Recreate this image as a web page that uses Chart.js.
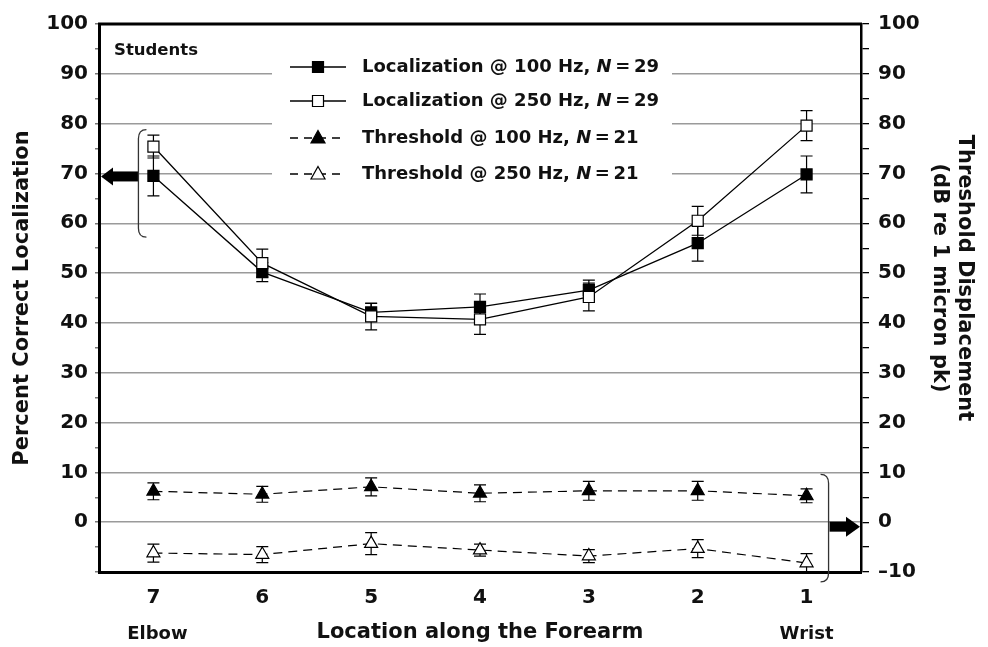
<!DOCTYPE html>
<html lang="en">
<head>
  <meta charset="UTF-8" />
  <title>Localization and Threshold along the Forearm</title>
  <script src="https://cdn.jsdelivr.net/npm/chart.js@4.4.1/dist/chart.umd.min.js"></script>
  <style>
    body { margin: 0; background: #fff; }
    #wrap { width: 988px; height: 647px; }
  </style>
</head>
<body>
  <div id="wrap"><canvas id="chart" width="988" height="647"></canvas></div>
  <script>
    // --- data ---
    const locations = ['7', '6', '5', '4', '3', '2', '1'];
    const loc100 = [69.5, 50.2, 42.1, 43.2, 46.6, 56.0, 69.8];
    const loc100Err = [4.0, 1.9, 1.8, 2.6, 2.0, 3.6, 3.7];
    const loc250 = [75.4, 52.0, 41.3, 40.7, 45.2, 60.5, 79.6];
    const loc250Err = [2.3, 2.8, 2.7, 3.0, 2.8, 2.9, 3.0];
    const thr100 = [6.2, 5.6, 7.1, 5.8, 6.3, 6.3, 5.3];
    const thr100Err = [1.7, 1.6, 1.8, 1.7, 1.9, 1.9, 1.4];
    const thr250 = [-6.2, -6.5, -4.3, -5.6, -6.8, -5.3, -8.2];
    const thr250Err = [1.8, 1.6, 2.2, 1.2, 1.3, 1.8, 1.9];
    const legendLabels = [
      ['Localization @ 100 Hz, ', 'N', '\u2009=\u200929'],
      ['Localization @ 250 Hz, ', 'N', '\u2009=\u200929'],
      ['Threshold @ 100 Hz, ', 'N', '\u2009=\u200921'],
      ['Threshold @ 250 Hz, ', 'N', '\u2009=\u200921']
    ];
    const rightTitle = ['Threshold Displacement', '(dB re 1 micron pk)'];

    const FONT = "'DejaVu Sans', sans-serif";
    Chart.defaults.font.family = FONT;
    Chart.defaults.color = '#111';

    const errors = [loc100Err, loc250Err, thr100Err, thr250Err];

    function marker(ctx, style, fill, x, y) {
      ctx.save();
      ctx.lineWidth = 1.2;
      ctx.strokeStyle = '#000';
      ctx.fillStyle = fill;
      ctx.setLineDash([]);
      ctx.beginPath();
      if (style === 'rect') {
        ctx.rect(x - 5.5, y - 5.5, 11, 11);
      } else {
        ctx.moveTo(x, y - 7.5);
        ctx.lineTo(x + 7, y + 5);
        ctx.lineTo(x - 7, y + 5);
        ctx.closePath();
      }
      ctx.fill();
      ctx.stroke();
      ctx.restore();
    }

    // error bars behind the markers
    const errorBars = {
      id: 'errorBars',
      beforeDatasetsDraw(chart) {
        const ctx = chart.ctx;
        ctx.save();
        ctx.strokeStyle = '#000';
        ctx.lineWidth = 1.2;
        chart.data.datasets.forEach((ds, i) => {
          const meta = chart.getDatasetMeta(i);
          const ys = chart.scales[meta.yAxisID];
          meta.data.forEach((pt, j) => {
            const v = ds.data[j], e = errors[i][j];
            const y1 = ys.getPixelForValue(v + e), y2 = ys.getPixelForValue(v - e);
            ctx.beginPath();
            ctx.moveTo(pt.x, y1); ctx.lineTo(pt.x, y2);
            ctx.moveTo(pt.x - 6, y1); ctx.lineTo(pt.x + 6, y1);
            ctx.moveTo(pt.x - 6, y2); ctx.lineTo(pt.x + 6, y2);
            ctx.stroke();
          });
        });
        ctx.restore();
      }
    };

    // frame, arrows, brackets, legend and labels
    const decor = {
      id: 'decor',
      afterDatasetsDraw(chart) {
        const ctx = chart.ctx;
        const a = chart.chartArea;
        const y = chart.scales.y, y2 = chart.scales.y2, x = chart.scales.x;
        ctx.save();

        // top frame line
        ctx.strokeStyle = '#000';
        ctx.lineWidth = 3;
        ctx.beginPath();
        ctx.moveTo(a.left - 1, a.top); ctx.lineTo(a.right + 1, a.top);
        ctx.stroke();

        // left arrow + bracket (localization -> left axis)
        const ay = y.getPixelForValue(69.4);
        const bx = x.getPixelForValue(0) - 15;
        ctx.fillStyle = '#000';
        ctx.fillRect(a.left + 12, ay - 5, bx - a.left - 12, 10);
        ctx.beginPath();
        ctx.moveTo(a.left + 2, ay);
        ctx.lineTo(a.left + 14, ay - 9);
        ctx.lineTo(a.left + 14, ay + 9);
        ctx.closePath();
        ctx.fill();
        ctx.lineWidth = 1.3;
        ctx.strokeStyle = '#333';
        let t = y.getPixelForValue(78.8), b = y.getPixelForValue(57.2);
        ctx.beginPath();
        ctx.moveTo(bx + 8, t);
        ctx.quadraticCurveTo(bx, t, bx, t + 9);
        ctx.lineTo(bx, b - 9);
        ctx.quadraticCurveTo(bx, b, bx + 8, b);
        ctx.stroke();

        // right arrow + bracket (threshold -> right axis)
        const rx = x.getPixelForValue(6) + 22;
        const ry = y2.getPixelForValue(-0.9);
        t = y2.getPixelForValue(9.6); b = y2.getPixelForValue(-12);
        ctx.beginPath();
        ctx.moveTo(rx - 8, t);
        ctx.quadraticCurveTo(rx, t, rx, t + 9);
        ctx.lineTo(rx, b - 9);
        ctx.quadraticCurveTo(rx, b, rx - 8, b);
        ctx.stroke();
        ctx.fillRect(rx + 1, ry - 5, a.right - rx - 14, 10);
        ctx.beginPath();
        ctx.moveTo(a.right - 1, ry);
        ctx.lineTo(a.right - 15, ry - 10);
        ctx.lineTo(a.right - 15, ry + 10);
        ctx.closePath();
        ctx.fill();

        // legend box
        ctx.fillStyle = '#fff';
        ctx.fillRect(272, 46, 400, 146);
        const rows = [67, 101, 138, 174];
        const styles = [['rect', '#000', []], ['rect', '#fff', []], ['triangle', '#000', [8, 6]], ['triangle', '#fff', [8, 6]]];
        rows.forEach((ry2, i) => {
          ctx.strokeStyle = '#000';
          ctx.lineWidth = 1.3;
          ctx.setLineDash(styles[i][2]);
          ctx.beginPath();
          ctx.moveTo(290, ry2); ctx.lineTo(346, ry2);
          ctx.stroke();
          ctx.setLineDash([]);
          marker(ctx, styles[i][0], styles[i][1], 318, ry2);
          const parts = legendLabels[i];
          ctx.fillStyle = '#111';
          ctx.textBaseline = 'middle';
          let tx = 362;
          ctx.font = 'bold 18px ' + FONT;
          ctx.fillText(parts[0], tx, ry2);
          tx += ctx.measureText(parts[0]).width;
          ctx.font = 'italic bold 18px ' + FONT;
          ctx.fillText(parts[1], tx, ry2);
          tx += ctx.measureText(parts[1]).width;
          ctx.font = 'bold 18px ' + FONT;
          ctx.fillText(parts[2], tx, ry2);
        });

        ctx.fillStyle = '#111';
        ctx.font = 'bold 16.5px ' + FONT;
        ctx.textBaseline = 'alphabetic';
        ctx.fillText('Students', 114, 55);
        ctx.restore();
      },
      afterDraw(chart) {
        const ctx = chart.ctx;
        const x = chart.scales.x;
        ctx.save();
        ctx.fillStyle = '#111';
        ctx.font = 'bold 18px ' + FONT;
        ctx.textAlign = 'center';
        ctx.textBaseline = 'middle';
        ctx.fillText('Elbow', x.getPixelForValue(0) + 4, 634);
        ctx.fillText('Wrist', x.getPixelForValue(6), 634);

        // right axis title, read top to bottom
        ctx.font = 'bold 21px ' + FONT;
        ctx.translate(964, 278);
        ctx.rotate(Math.PI / 2);
        ctx.fillText(rightTitle[0], 0, 0);
        ctx.fillText(rightTitle[1], 0, 25);
        ctx.restore();
      }
    };

    const tickFont = { size: 20, weight: 'bold' };
    const titleFont = { size: 21, weight: 'bold' };

    new Chart(document.getElementById('chart'), {
      type: 'line',
      data: {
        labels: locations,
        datasets: [
          {
            label: 'Localization @ 100 Hz',
            data: loc100, yAxisID: 'y', order: 2,
            borderColor: '#000', borderWidth: 1.3,
            pointStyle: 'rect', pointRadius: 7.8, pointBorderWidth: 1.2,
            pointBackgroundColor: '#000', pointBorderColor: '#000'
          },
          {
            label: 'Localization @ 250 Hz',
            data: loc250, yAxisID: 'y', order: 1,
            borderColor: '#000', borderWidth: 1.3,
            pointStyle: 'rect', pointRadius: 7.8, pointBorderWidth: 1.2,
            pointBackgroundColor: '#fff', pointBorderColor: '#000'
          },
          {
            label: 'Threshold @ 100 Hz',
            data: thr100, yAxisID: 'y2', order: 3,
            borderColor: '#000', borderWidth: 1.2, borderDash: [9, 6],
            pointStyle: 'triangle', pointRadius: 7.5, pointBorderWidth: 1.2,
            pointBackgroundColor: '#000', pointBorderColor: '#000'
          },
          {
            label: 'Threshold @ 250 Hz',
            data: thr250, yAxisID: 'y2', order: 4,
            borderColor: '#000', borderWidth: 1.2, borderDash: [9, 6],
            pointStyle: 'triangle', pointRadius: 7.5, pointBorderWidth: 1.2,
            pointBackgroundColor: '#fff', pointBorderColor: '#000'
          }
        ]
      },
      options: {
        responsive: false,
        animation: false,
        layout: { padding: { top: 24, left: 0, right: 0, bottom: 0 } },
        plugins: { legend: { display: false }, tooltip: { enabled: false } },
        scales: {
          x: {
            offset: true,
            grid: { display: false, drawTicks: false, tickLength: 0 },
            border: { display: true, color: '#000', width: 3 },
            ticks: { font: tickFont, color: '#111', padding: 14 },
            title: { display: true, text: 'Location along the Forearm', font: titleFont, color: '#111', padding: { top: 0, bottom: 2 } },
            afterFit: s => { s.height = 75; }
          },
          y: {
            position: 'left',
            min: -10, max: 100,
            grid: {
              color: c => (c.tick.value % 10 === 0 && c.tick.value >= 0 && c.tick.value < 100) ? '#9a9a9a' : 'rgba(0,0,0,0)',
              lineWidth: 1.5,
              tickColor: '#777', tickLength: 4
            },
            border: { display: true, color: '#000', width: 3 },
            ticks: {
              stepSize: 5, autoSkip: false, font: tickFont, color: '#111', padding: 7,
              callback: v => (v % 10 === 0 && v >= 0) ? String(v) : ''
            },
            title: { display: true, text: 'Percent Correct Localization', font: titleFont, color: '#111', padding: { top: 10, bottom: 0 } },
            afterFit: s => { s.width = 99; }
          },
          y2: {
            position: 'right',
            min: -10, max: 100,
            grid: { drawOnChartArea: false, tickColor: '#000', tickLength: 8, lineWidth: 1.3 },
            border: { display: true, color: '#000', width: 2.5 },
            ticks: {
              stepSize: 5, autoSkip: false, font: tickFont, color: '#111', padding: 9,
              callback: v => v % 10 === 0 ? (v < 0 ? '\u2013' + Math.abs(v) : String(v)) : ''
            },
            title: { display: false },
            afterFit: s => { s.width = 127; }
          }
        }
      },
      plugins: [errorBars, decor]
    });
  </script>
</body>
</html>
